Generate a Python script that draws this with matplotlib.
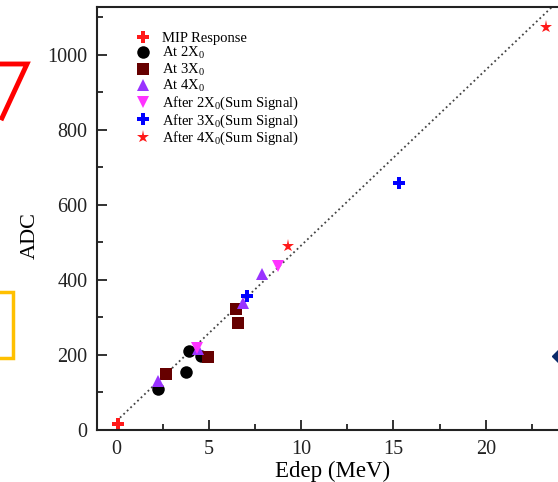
import matplotlib
matplotlib.use('Agg')
import matplotlib.pyplot as plt
from matplotlib.lines import Line2D
from matplotlib.patches import Rectangle
import numpy as np

plt.rcParams['font.family'] = 'Liberation Serif'
plt.rcParams['mathtext.fontset'] = 'custom'
plt.rcParams['mathtext.rm'] = 'Liberation Serif'
plt.rcParams['mathtext.it'] = 'Liberation Serif'

# MIP response
mip_x = [0.1]
mip_y = [16]

# single-layer readout
at2_x = [2.25, 3.76, 3.93, 4.58]
at2_y = [109, 155, 211, 197]
at3_x = [2.68, 4.96, 6.47, 6.6]
at3_y = [149, 195, 323, 285]
at4_x = [2.25, 4.4, 6.85, 7.88]
at4_y = [131, 216, 339, 416]

# summed signals
sum2_x = [4.35, 8.75]
sum2_y = [219, 437]
sum3_x = [7.06, 15.3]
sum3_y = [357, 658]
sum4_x = [9.29, 23.26]
sum4_y = [491, 1075]

# linear fit
fit_slope = 46.8
fit_icpt = 24.0

x_ticks = [0, 5, 10, 15, 20]
x_minor = [2.5, 7.5, 12.5, 17.5, 22.5]

fig = plt.figure(figsize=(5.58, 4.82), dpi=100)
ax = fig.add_axes([0.1738, 0.1079, 0.862, 0.8776])

xf = np.array([0.0, 25.0])
ax.plot(xf, fit_icpt + fit_slope * xf, ':', color='#444444', lw=1.3, zorder=1)

ax.plot(mip_x, mip_y, 'P', color='#ff1a1a', ms=9, mew=0, label='MIP Response')
ax.plot(at2_x, at2_y, 'o', color='black', ms=9, mew=0, label=r'At 2X$_0$')
ax.plot(at3_x, at3_y, 's', color='#660000', ms=8.5, mew=0, label=r'At 3X$_0$')
ax.plot(at4_x, at4_y, '^', color='#9933ff', ms=9, mew=0, label=r'At 4X$_0$')
ax.plot(sum2_x, sum2_y, 'v', color='#ff33ff', ms=9, mew=0,
        label=r'After 2X$_0$(Sum Signal)')
ax.plot(sum3_x, sum3_y, 'P', color='#0000ff', ms=9, mew=0,
        label=r'After 3X$_0$(Sum Signal)')
ax.plot(sum4_x, sum4_y, '*', color='#ff1a1a', ms=9.5, mew=0,
        label=r'After 4X$_0$(Sum Signal)')

ax.set_xlim(-1.06, 25)
ax.set_ylim(0, 1128)
ax.set_xticks(x_ticks)
ax.set_xticks(x_minor, minor=True)
ax.yaxis.set_major_locator(plt.MultipleLocator(200))
ax.yaxis.set_minor_locator(plt.MultipleLocator(100))
ax.tick_params(which='both', direction='in', labelsize=14.5, width=1.3, colors='#222222')
ax.tick_params(which='major', length=7)
ax.tick_params(which='minor', length=4)
ax.tick_params(axis='x', pad=7)
ax.tick_params(axis='y', pad=7)
for s in ['left', 'bottom', 'top']:
    ax.spines[s].set_linewidth(1.5)
    ax.spines[s].set_color('#222222')
ax.spines['right'].set_visible(False)

ax.set_xlabel('Edep (MeV)', fontsize=16.5)
ax.xaxis.set_label_coords(0.489, -0.072)
ax.set_ylabel('ADC', fontsize=16)
ax.yaxis.set_label_coords(-0.118, 0.46)

ax.legend(loc='upper left', bbox_to_anchor=(0.066, 0.955), frameon=False,
          fontsize=10.5, labelspacing=0.02, handletextpad=0.7, handlelength=1.2,
          borderaxespad=0)

# neighbouring annotations on the page
fig.add_artist(Line2D([0, 27 / 558, 2 / 558], [1 - 64 / 482, 1 - 64 / 482, 1 - 118 / 482],
                      color='#ff0000', lw=3.5, solid_joinstyle='miter'))
fig.add_artist(Rectangle((-0.01, 1 - 358 / 482), 13 / 558 + 0.01, 66 / 482,
                         fill=False, edgecolor='#ffc000', lw=2.5))
fig.add_artist(Line2D([561 / 558], [1 - 356 / 482], marker='D', ms=9,
                      color='#0a2a6a', clip_on=False))

fig.savefig('out.png', dpi=100)
